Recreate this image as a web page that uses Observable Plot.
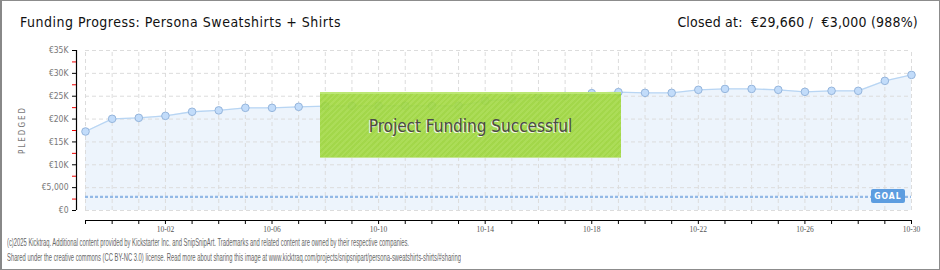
<!DOCTYPE html>
<html><head><meta charset="utf-8">
<script src="https://cdn.jsdelivr.net/npm/d3@7"></script>
<script src="https://cdn.jsdelivr.net/npm/@observablehq/plot@0.6"></script>
<style>
body{margin:0;background:#fff;}
#wrap{position:relative;width:940px;height:270px;overflow:hidden;font-family:"DejaVu Sans Condensed","DejaVu Sans",sans-serif;font-stretch:condensed;}
#border{position:absolute;left:0;top:0;width:940px;height:270px;box-sizing:border-box;border:1px solid #8c8c8c;border-left:2px solid #888;pointer-events:none;}
#chart{position:absolute;left:0;top:0;}
#title{position:absolute;left:20px;top:14px;font-size:14px;letter-spacing:0.5px;color:#111;white-space:nowrap;}
#closed{position:absolute;right:22px;top:14px;font-size:14px;letter-spacing:0.2px;color:#111;white-space:nowrap;}
#ylab{position:absolute;left:22px;top:130px;transform:translate(-50%,-50%) rotate(-90deg);font-size:8px;letter-spacing:2px;color:#777;white-space:nowrap;font-family:"DejaVu Sans",sans-serif;}
#success{position:absolute;left:320px;top:92px;width:301px;height:66px;box-sizing:border-box;
 background:repeating-linear-gradient(135deg,rgba(155,212,55,0.9) 0px,rgba(155,212,55,0.9) 2px,rgba(165,218,70,0.9) 2px,rgba(165,218,70,0.9) 4px);
 border-top:2px solid rgba(190,232,120,0.9);border-bottom:1px solid rgba(200,230,150,0.9);
 display:flex;align-items:center;justify-content:center;font-size:17px;color:#4a4a4a;text-shadow:-1px 1px 0 rgba(255,255,255,0.85);}
#goal{position:absolute;left:871px;top:189px;width:34px;height:14px;background:#5d9de0;border-radius:2px;color:#fff;font-size:8.5px;font-weight:bold;letter-spacing:1px;display:flex;align-items:center;justify-content:center;font-family:"DejaVu Sans",sans-serif;}
#foot{position:absolute;left:7px;top:235px;font-size:10.5px;line-height:14.5px;color:#666;white-space:nowrap;font-family:"Liberation Sans Narrow",sans-serif;transform:scaleX(0.555);transform-origin:0 0;}
</style></head><body>
<div id="wrap">
  <div id="chart"></div>
  <div id="title">Funding Progress: Persona Sweatshirts + Shirts</div>
  <div id="closed">Closed at:&nbsp; €29,660 /&nbsp; €3,000 (988%)</div>
  <div id="ylab">PLEDGED</div>
  <div id="success">Project Funding Successful</div>
  <div id="goal">GOAL</div>
  <div id="foot">(c)2025 Kicktraq. Additional content provided by Kickstarter Inc. and SnipSnipArt. Trademarks and related content are owned by their respective companies.<br>Shared under the creative commons (CC BY-NC 3.0) license. Read more about sharing this image at www.kicktraq.com/projects/snipsnipart/persona-sweatshirts-shirts/#sharing</div>
  <div id="border"></div>
</div>
<script>
const dates = ["2025-09-29","2025-09-30","2025-10-01","2025-10-02","2025-10-03","2025-10-04","2025-10-05","2025-10-06",
  "2025-10-07","2025-10-08","2025-10-09","2025-10-10","2025-10-11","2025-10-12","2025-10-13","2025-10-14",
  "2025-10-15","2025-10-16","2025-10-17","2025-10-18","2025-10-19","2025-10-20","2025-10-21","2025-10-22",
  "2025-10-23","2025-10-24","2025-10-25","2025-10-26","2025-10-27","2025-10-28","2025-10-29","2025-10-30"];
const pledged = [17280,20060,20270,20700,21600,21900,22460,22460,
  22680,22830,22900,22900,22900,22900,22900,24000,
  24360,24870,25080,25670,25890,25740,25740,26400,
  26600,26600,26400,25960,26180,26180,28360,29660];
const goal = 3000;
const yTicks = [0,5000,10000,15000,20000,25000,30000,35000];
const yMinorTicks = [2500,7500,12500,17500,22500,27500,32500];
const xLabelDays = ["10-02","10-06","10-10","10-14","10-18","10-22","10-26","10-30"];

const parse = d3.utcParse("%Y-%m-%d");
const fmt = d3.utcFormat("%m-%d");
const data = dates.map((d,i)=>({date:parse(d), pledged:pledged[i]}));
const days = data.map(d=>d.date);
const first = days[0], last = days[days.length-1];
const yFmt = v => v===0 ? "€0" : v===5000 ? "€5,000" : "€"+(v/1000)+"K";

const chart = Plot.plot({
  width:940, height:270,
  marginTop:50, marginBottom:50, marginLeft:76, marginRight:29,
  style:{background:"transparent"},
  x:{type:"utc", domain:[first,last], insetLeft:9, insetRight:0},
  y:{domain:[0,35000], insetBottom:10},
  marks:[
    Plot.areaY(data,{x:"date", y:"pledged", fill:"#edf4fc"}),
    Plot.ruleX(days,{x:d=>d, y1:0, y2:35000, stroke:"#dcdcdc", strokeDasharray:"4,3"}),
    Plot.ruleY(yTicks,{y:d=>d, x1:first, x2:last, stroke:"#dcdcdc", strokeDasharray:"4,3"}),
    Plot.ruleY([goal],{y:d=>d, x1:first, x2:last, stroke:"#93b9e6", strokeWidth:2.2, strokeDasharray:"3,2"}),
    Plot.lineY(data,{x:"date", y:"pledged", stroke:"#b8d5f3", strokeWidth:1.3}),
    Plot.dot(data,{x:"date", y:"pledged", r:3.8, fill:"#c2dcfa", stroke:"#95b5dc", strokeWidth:1}),
    Plot.ruleX([first],{x:d=>d, y1:0, y2:35000, dx:-9, stroke:"#000", strokeWidth:1.2}),
    Plot.ruleY([0],{y:d=>d, x1:first, x2:last, dy:10, stroke:"#000", strokeWidth:1.2}),
    Plot.axisY({ticks:yTicks, tickFormat:yFmt, tickSize:4, tickPadding:4, stroke:"#000", fill:"#777", fontSize:8.5, label:null, fontFamily:"DejaVu Sans"}),
    Plot.axisY({ticks:yMinorTicks, tickFormat:()=>"", tickSize:4, stroke:"#e00", label:null}),
    Plot.axisX({ticks:days, tickFormat:d=>{const s=fmt(d); return xLabelDays.includes(s)?s:"";}, tickSize:4, tickPadding:2, stroke:"#000", fill:"#555", fontSize:7.5, label:null, fontFamily:"Liberation Sans Narrow"})
  ]
});
document.getElementById("chart").appendChild(chart);
</script>
</body></html>
